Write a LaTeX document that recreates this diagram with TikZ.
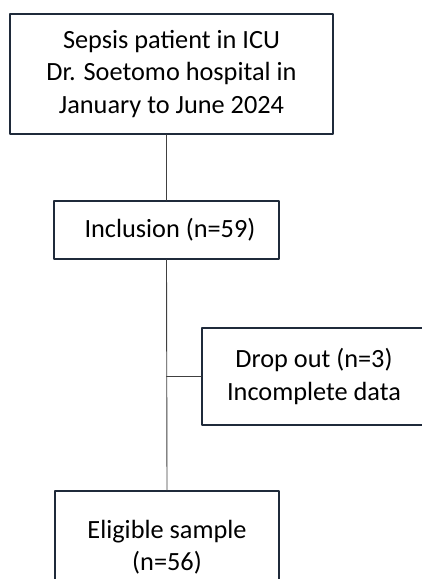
\documentclass[tikz,border=0pt]{standalone}
\usepackage{fontspec}
\setmainfont{Carlito}
\usetikzlibrary{calc, positioning}
\definecolor{boxline}{HTML}{1F2A3A}
\definecolor{linkline}{HTML}{404040}

\begin{document}
\begin{tikzpicture}[line cap=round,line join=round,x=1pt,y=-1pt,
  flowbox/.style={draw=boxline, line width=1.8pt, fill=white, align=center,
    inner sep=0pt, font=\fontsize{26.3}{32.5}\selectfont},
  link/.style={draw=linkline, line width=0.9pt}]
% bounding area of the page
\useasboundingbox (0,0) rectangle (422,579);
\clip (0,0) rectangle (422,579);

% --- boxes ---
\node [flowbox, minimum width=323pt, minimum height=120pt] (patient) at (171.5, 74)
  {Sepsis patient in ICU\\ Dr. Soetomo hospital in\\ January to June 2024};
\node [flowbox, minimum width=225pt, minimum height=58pt] (inclusion) at (166.5, 230)
  {\hspace*{7pt}Inclusion (n=59)};
\node [flowbox, minimum width=224pt, minimum height=97pt] (dropout) at (314, 376.5)
  {Drop out (n=3)\\ Incomplete data};
\node [flowbox, minimum width=224pt, minimum height=112pt] (eligible) at (167, 547)
  {Eligible sample\\ (n=56)};

% --- connectors ---
\coordinate (split) at (inclusion.south |- dropout.west);
\draw [link] (inclusion.north |- patient.south) -- (inclusion.north);
\draw [link] (inclusion.south) -- (eligible.north);
\draw [link] (split) -- (dropout.west);

\end{tikzpicture}
\end{document}
